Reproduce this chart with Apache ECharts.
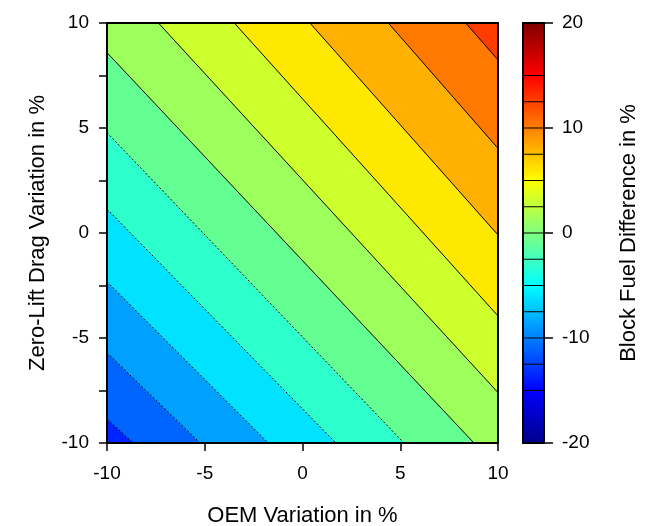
<!DOCTYPE html>
<html><head><meta charset="utf-8">
<script src="https://cdn.jsdelivr.net/npm/echarts@6/dist/echarts.min.js"></script>
<style>html,body{margin:0;padding:0;background:#fff}#c{width:648px;height:526px}</style>
</head><body><div id="c"></div>
<script>
// Contour levels (Block Fuel Difference in %) and where each contour line meets the plot border
const contourLevels = [-12.5, -10, -7.5, -5, -2.5, 0, 2.5, 5, 7.5, 10, 12.5];
const contourStart = [[-10, -8.86], [-10, -5.7], [-10, -2.32], [-10, 1.14], [-10, 4.78], [-10, 8.59],
                      [-7.37, 10], [-3.49, 10], [0.38, 10], [4.39, 10], [8.35, 10]];
const contourEnd   = [[-8.65, -10], [-5.24, -10], [-1.75, -10], [1.71, -10], [5.19, -10], [8.77, -10],
                      [10, -7.6], [10, -3.95], [10, -0.095], [10, 4.03], [10, 8.24]];
// Fill colour of each band, from lowest to highest
const bandColors = ['#0024ff', '#0064ff', '#00a0ff', '#00e2ff', '#2cffcc', '#64ff92',
                    '#9cff5c', '#ccff2c', '#ffe800', '#ffb000', '#ff7800', '#ff3c00'];
// Colour bar
const colorbarLines = [-15, -12.5, -10, -7.5, -5, -2.5, 0, 2.5, 5, 7.5, 10, 12.5, 15];
const colorbarStopValues = [-20, -15, -5, 5, 15, 20];
const colorbarStopColors = ['#00008c', '#0000ff', '#00ffff', '#ffff00', '#ff0000', '#800000'];
const xTickLabels = [-10, -5, 0, 5, 10];
const yTickLabels = [-10, -5, 0, 5, 10];
const cbarTickLabels = [-20, -10, 0, 10, 20];

const FONT = 'Liberation Sans';
const XR = [-10, 10], YR = [-10, 10];

function cross(a, b, q) { return (b[0]-a[0])*(q[1]-a[1]) - (b[1]-a[1])*(q[0]-a[0]); }
function clipHalf(poly, a, b, keepUpper) {
  const ref = Math.sign(cross(a, b, [100, 100])) * (keepUpper ? 1 : -1);
  const s = q => cross(a, b, q) * ref;
  const out = [];
  for (let i = 0; i < poly.length; i++) {
    const cur = poly[i], prev = poly[(i + poly.length - 1) % poly.length];
    const sc = s(cur), sp = s(prev);
    const inter = () => { const t = sp / (sp - sc); return [prev[0] + t*(cur[0]-prev[0]), prev[1] + t*(cur[1]-prev[1])]; };
    if (sc >= 0) { if (sp < 0) out.push(inter()); out.push(cur); }
    else if (sp >= 0) out.push(inter());
  }
  return out;
}
function bandPolygon(k) {
  let poly = [[XR[0], YR[0]], [XR[1], YR[0]], [XR[1], YR[1]], [XR[0], YR[1]]];
  if (k > 0) poly = clipHalf(poly, contourStart[k-1], contourEnd[k-1], true);
  if (k < contourLevels.length && poly.length) poly = clipHalf(poly, contourStart[k], contourEnd[k], false);
  return poly;
}

const chart = echarts.init(document.getElementById('c'));
const lineOnly = { show: true, onZero: false, lineStyle: { color: '#000', width: 2 } };
const hidden = { show: false };
const labelStyle = { fontFamily: FONT, fontSize: 19, color: '#000' };
const nameStyle = { fontFamily: FONT, fontSize: 22, color: '#000' };

chart.setOption({
  animation: false,
  backgroundColor: '#fff',
  grid: [
    { left: 107, top: 23, width: 391, height: 420, containLabel: false, outerBoundsMode: 'none' },
    { left: 523, top: 23, width: 21, height: 420, containLabel: false, outerBoundsMode: 'none' }
  ],
  xAxis: [
    { gridIndex: 0, type: 'value', min: -10, max: 10, interval: 5, position: 'bottom', z: 10,
      name: 'OEM Variation in %', nameLocation: 'middle', nameGap: 62, nameTextStyle: nameStyle,
      axisLine: lineOnly, axisTick: { show: true, inside: false, length: 8, lineStyle: { color: '#000', width: 1.5 } },
      axisLabel: Object.assign({ margin: 21, formatter: v => xTickLabels.includes(v) ? String(v) : '' }, labelStyle),
      splitLine: hidden },
    { gridIndex: 0, type: 'value', min: -10, max: 10, position: 'top', z: 10,
      axisLine: lineOnly, axisTick: hidden, axisLabel: hidden, splitLine: hidden },
    { gridIndex: 1, type: 'value', min: 0, max: 1, position: 'bottom', z: 10,
      axisLine: lineOnly, axisTick: hidden, axisLabel: hidden, splitLine: hidden },
    { gridIndex: 1, type: 'value', min: 0, max: 1, position: 'top', z: 10,
      axisLine: lineOnly, axisTick: hidden, axisLabel: hidden, splitLine: hidden }
  ],
  yAxis: [
    { gridIndex: 0, type: 'value', min: -10, max: 10, interval: 2.5, position: 'left', z: 10,
      name: 'Zero-Lift Drag Variation in %', nameLocation: 'middle', nameGap: 58, nameRotate: 90, nameTextStyle: nameStyle,
      axisLine: lineOnly, axisTick: { show: true, length: 8, lineStyle: { color: '#000', width: 1.5 } },
      axisLabel: Object.assign({ margin: 18, formatter: v => yTickLabels.includes(v) ? String(v) : '' }, labelStyle),
      splitLine: hidden },
    { gridIndex: 0, type: 'value', min: -10, max: 10, position: 'right', z: 10,
      axisLine: lineOnly, axisTick: hidden, axisLabel: hidden, splitLine: hidden },
    { gridIndex: 1, type: 'value', min: -20, max: 20, interval: 10, position: 'right', z: 10,
      name: 'Block Fuel Difference in %', nameLocation: 'middle', nameGap: 74, nameRotate: 90, nameTextStyle: nameStyle,
      axisLine: lineOnly, axisTick: { show: true, length: 9, lineStyle: { color: '#000', width: 1.5 } },
      axisLabel: Object.assign({ margin: 18, formatter: v => cbarTickLabels.includes(v) ? String(v) : '' }, labelStyle),
      splitLine: hidden },
    { gridIndex: 1, type: 'value', min: -20, max: 20, position: 'left', z: 10,
      axisLine: lineOnly, axisTick: hidden, axisLabel: hidden, splitLine: hidden }
  ],
  series: [
    { type: 'custom', xAxisIndex: 0, yAxisIndex: 0, clip: true, silent: true, z: 2,
      data: bandColors.map(() => [0, 0]),
      renderItem: (params, api) => {
        const k = params.dataIndex;
        const pts = bandPolygon(k).map(p => api.coord(p));
        return { type: 'polygon', shape: { points: pts },
                 style: { fill: bandColors[k], stroke: bandColors[k], lineWidth: 0.6 } };
      } },
    { type: 'custom', xAxisIndex: 0, yAxisIndex: 0, clip: true, silent: true, z: 3,
      data: contourLevels.map(() => [0, 0]),
      renderItem: (params, api) => {
        const k = params.dataIndex;
        const a = api.coord(contourStart[k]), b = api.coord(contourEnd[k]);
        return { type: 'line', shape: { x1: a[0], y1: a[1], x2: b[0], y2: b[1] },
                 style: { stroke: '#000', lineWidth: 1, lineDash: contourLevels[k] < 0 ? [2, 2] : null } };
      } },
    { type: 'custom', xAxisIndex: 2, yAxisIndex: 2, clip: true, silent: true, z: 2,
      data: [[0.5, 0]],
      renderItem: (params, api) => {
        const tl = api.coord([0, 20]), br = api.coord([1, -20]);
        const stops = colorbarStopValues.map((v, i) => ({ offset: (v + 20) / 40, color: colorbarStopColors[i] }));
        return { type: 'rect', shape: { x: tl[0], y: tl[1], width: br[0] - tl[0], height: br[1] - tl[1] },
                 style: { fill: new echarts.graphic.LinearGradient(0, 1, 0, 0, stops) } };
      } },
    { type: 'custom', xAxisIndex: 2, yAxisIndex: 2, clip: true, silent: true, z: 3,
      data: colorbarLines.map(() => [0.5, 0]),
      renderItem: (params, api) => {
        const v = colorbarLines[params.dataIndex];
        const a = api.coord([0, v]), b = api.coord([1, v]);
        return { type: 'line', shape: { x1: a[0], y1: a[1], x2: b[0], y2: b[1] },
                 style: { stroke: '#000', lineWidth: 1 } };
      } }
  ]
});
</script></body></html>
